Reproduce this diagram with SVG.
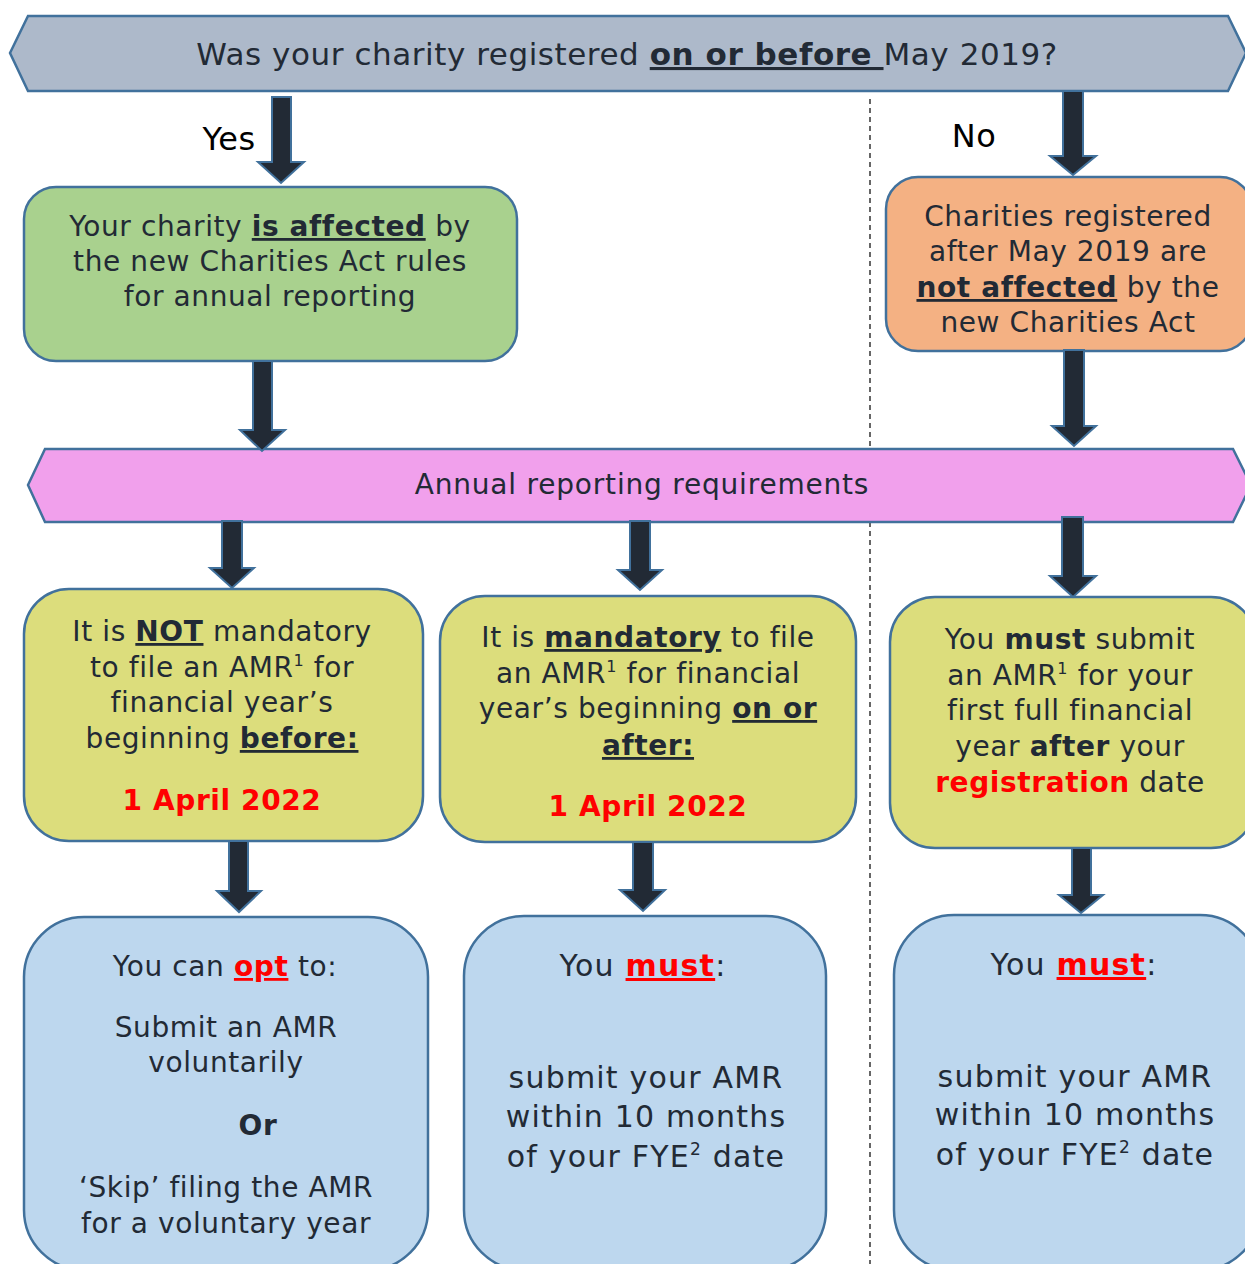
<svg xmlns="http://www.w3.org/2000/svg" width="1245" height="1264" viewBox="0 0 1245 1264">
<style>
.t{font-family:"DejaVu Sans","Verdana","Liberation Sans",sans-serif;fill:#222a35;text-anchor:middle;font-size:28px;letter-spacing:0.6px;}
.l{font-size:30px;letter-spacing:1.2px;}
.b{font-weight:bold;}
.u{text-decoration:underline;}
.red{fill:#ff0000;}
.sup{font-size:16px;}
.shape{stroke:#41719c;stroke-width:2.5;}
.arrow{fill:#222a35;stroke:#41719c;stroke-width:2;stroke-linejoin:miter;}
</style>
<rect width="1245" height="1264" fill="#ffffff"/>
<line x1="870" y1="99" x2="870" y2="1264" stroke="#000" stroke-width="1.2" stroke-dasharray="5 4"/>

<g id="q-registered">
<polygon class="shape" fill="#adb9ca" points="10,53 28,16 1228,16 1246,53 1228,91 28,91"/>
<text class="t" x="627" y="65" style="font-size:31px;letter-spacing:0.55px">Was your charity registered <tspan class="b u">on or before </tspan>May 2019?</text>
</g>

<g id="label-yes"><text class="t" x="229" y="150" style="font-size:32px;letter-spacing:0.5px;fill:#000">Yes</text></g>
<g id="label-no"><text class="t" x="974" y="147" style="font-size:32px;letter-spacing:0.5px;fill:#000">No</text></g>

<g id="affected">
<rect class="shape" fill="#a9d18e" x="24" y="187" width="493" height="174" rx="32"/>
<text class="t" x="270" y="236">Your charity <tspan class="b u">is affected</tspan> by</text>
<text class="t" x="270" y="271">the new Charities Act rules</text>
<text class="t" x="270" y="306">for annual reporting</text>
</g>

<g id="not-affected">
<rect class="shape" fill="#f4b183" x="886" y="177" width="366" height="174" rx="32"/>
<text class="t" x="1068" y="226">Charities registered</text>
<text class="t" x="1068" y="261">after May 2019 are</text>
<text class="t" x="1068" y="297"><tspan class="b u">not affected</tspan> by the</text>
<text class="t" x="1068" y="332">new Charities Act</text>
</g>

<g id="annual-reporting">
<polygon class="shape" fill="#f1a0ec" points="28,485 45,449 1233,449 1251,485 1233,522 45,522"/>
<text class="t" x="642" y="494" style="letter-spacing:0.8px">Annual reporting requirements</text>
</g>

<g id="not-mandatory">
<rect class="shape" fill="#dcdd7c" x="24" y="589" width="399" height="252" rx="45"/>
<text class="t" x="222" y="641">It is <tspan class="b u">NOT</tspan> mandatory</text>
<text class="t" x="222" y="677">to file an AMR<tspan class="sup" dy="-11">1</tspan><tspan dy="11"> for</tspan></text>
<text class="t" x="222" y="712">financial year’s</text>
<text class="t" x="222" y="748">beginning <tspan class="b u">before:</tspan></text>
<text class="t b red" x="222" y="810">1 April 2022</text>
</g>

<g id="mandatory">
<rect class="shape" fill="#dcdd7c" x="440" y="596" width="416" height="246" rx="45"/>
<text class="t" x="648" y="647">It is <tspan class="b u">mandatory</tspan> to file</text>
<text class="t" x="648" y="683">an AMR<tspan class="sup" dy="-11">1</tspan><tspan dy="11"> for financial</tspan></text>
<text class="t" x="648" y="718">year’s beginning <tspan class="b u">on or</tspan></text>
<text class="t b u" x="648" y="755">after:</text>
<text class="t b red" x="648" y="816">1 April 2022</text>
</g>

<g id="must-submit">
<rect class="shape" fill="#dcdd7c" x="890" y="597" width="366" height="251" rx="45"/>
<text class="t" x="1070" y="649">You <tspan class="b">must</tspan> submit</text>
<text class="t" x="1070" y="685">an AMR<tspan class="sup" dy="-11">1</tspan><tspan dy="11"> for your</tspan></text>
<text class="t" x="1070" y="720">first full financial</text>
<text class="t" x="1070" y="756">year <tspan class="b">after</tspan> your</text>
<text class="t" x="1070" y="792"><tspan class="b red">registration</tspan> date</text>
</g>

<g id="opt">
<rect class="shape" fill="#bdd7ee" x="24" y="917" width="404" height="353" rx="60"/>
<text class="t" x="225" y="976">You can <tspan class="b u red">opt</tspan> to:</text>
<text class="t" x="226" y="1037">Submit an AMR</text>
<text class="t" x="226" y="1072">voluntarily</text>
<text class="t b" x="258" y="1135">Or</text>
<text class="t" x="226" y="1197">‘Skip’ filing the AMR</text>
<text class="t" x="226" y="1233">for a voluntary year</text>
</g>

<g id="must-mid">
<rect class="shape" fill="#bdd7ee" x="464" y="916" width="362" height="354" rx="60"/>
<text class="t l" x="643" y="976">You <tspan class="b u red">must</tspan>:</text>
<text class="t l" x="646" y="1088">submit your AMR</text>
<text class="t l" x="646" y="1127">within 10 months</text>
<text class="t l" x="646" y="1167">of your FYE<tspan style="font-size:17px" dy="-12">2</tspan><tspan dy="12"> date</tspan></text>
</g>

<g id="must-right">
<rect class="shape" fill="#bdd7ee" x="894" y="915" width="366" height="355" rx="60"/>
<text class="t l" x="1074" y="975">You <tspan class="b u red">must</tspan>:</text>
<text class="t l" x="1075" y="1087">submit your AMR</text>
<text class="t l" x="1075" y="1125">within 10 months</text>
<text class="t l" x="1075" y="1165">of your FYE<tspan style="font-size:17px" dy="-12">2</tspan><tspan dy="12"> date</tspan></text>
</g>

<g id="connectors">
<polygon class="arrow" points="272,97 291,97 291,162 304,162 281,183 258,162 272,162"/>
<polygon class="arrow" points="1063,91 1083,91 1083,156 1096,156 1073,175 1050,156 1063,156"/>
<polygon class="arrow" points="253,361 272,361 272,430 285,430 262,451 240,430 253,430"/>
<polygon class="arrow" points="1064,350 1084,350 1084,426 1096,426 1074,446 1052,426 1064,426"/>
<polygon class="arrow" points="222,521 242,521 242,568 254,568 232,588 210,568 222,568"/>
<polygon class="arrow" points="630,521 650,521 650,570 662,570 640,590 618,570 630,570"/>
<polygon class="arrow" points="1062,517 1083,517 1083,576 1096,576 1073,597 1050,576 1062,576"/>
<polygon class="arrow" points="229,841 248,841 248,891 261,891 239,912 217,891 229,891"/>
<polygon class="arrow" points="633,842 653,842 653,890 665,890 643,911 620,890 633,890"/>
<polygon class="arrow" points="1072,848 1091,848 1091,895 1103,895 1081,913 1059,895 1072,895"/>
</g>
</svg>
